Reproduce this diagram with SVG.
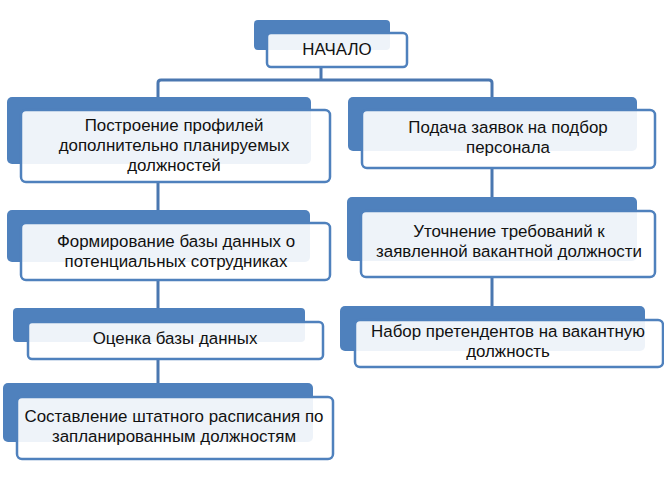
<svg xmlns="http://www.w3.org/2000/svg" width="664" height="481" viewBox="0 0 664 481">
<style>
.back{fill:#4f81bd;}
.front{fill:#ffffff;fill-opacity:0.9;stroke:#4f81bd;stroke-width:2.5;}
.conn{fill:none;stroke:#4a77b0;stroke-width:3;stroke-linejoin:round;}
text{font-family:"Liberation Sans",Arial,sans-serif;font-size:16.9px;fill:#111;text-anchor:middle;}
</style>
<rect width="664" height="481" fill="#ffffff"/>
<g id="connectors">
<path class="conn" d="M321,67 V80 M158,97 V83 Q158,80 161,80 H489 Q492,80 492,83 V97"/>
<path class="conn" d="M158,182 V210 M158,280 V308 M158,359 V383 M492,168 V197 M492,277 V306"/>
</g>
<g id="n0">
<rect class="back" x="254" y="20" width="136" height="30" rx="4"/>
<rect class="front" x="267" y="33" width="140" height="34" rx="4"/>
<text x="337" y="55">НАЧАЛО</text>
</g>
<g id="n1">
<rect class="back" x="7" y="97" width="304" height="67" rx="5"/>
<rect class="front" x="21" y="110" width="309" height="72" rx="5"/>
<text x="174" y="131">Построение профилей</text>
<text x="174" y="151">дополнительно планируемых</text>
<text x="174" y="171">должностей</text>
</g>
<g id="n2">
<rect class="back" x="7" y="210" width="303" height="52" rx="5"/>
<rect class="front" x="21" y="223" width="309" height="57" rx="5"/>
<text x="176" y="247">Формирование базы данных о</text>
<text x="176" y="267">потенциальных сотрудниках</text>
</g>
<g id="n3">
<rect class="back" x="13" y="308" width="292" height="34" rx="4"/>
<rect class="front" x="28" y="322" width="295" height="37" rx="4"/>
<text x="175" y="344">Оценка базы данных</text>
</g>
<g id="n4">
<rect class="back" x="3" y="383" width="310" height="59" rx="5"/>
<rect class="front" x="17" y="397" width="316" height="62" rx="5"/>
<text x="174" y="422">Составление штатного расписания по</text>
<text x="174" y="442">запланированным должностям</text>
</g>
<g id="n5">
<rect class="back" x="348" y="97" width="289" height="54" rx="5"/>
<rect class="front" x="362" y="110" width="293" height="58" rx="5"/>
<text x="508" y="133">Подача заявок на подбор</text>
<text x="508" y="153">персонала</text>
</g>
<g id="n6">
<rect class="back" x="347" y="197" width="290" height="64" rx="5"/>
<rect class="front" x="361" y="211" width="294" height="66" rx="5"/>
<text x="509" y="237">Уточнение требований к</text>
<text x="509" y="257">заявленной вакантной должности</text>
</g>
<g id="n7">
<rect class="back" x="340" y="306" width="305" height="45" rx="5"/>
<rect class="front" x="355" y="320" width="308" height="47" rx="5"/>
<text x="508" y="337">Набор претендентов на вакантную</text>
<text x="508" y="357">должность</text>
</g>
</svg>
